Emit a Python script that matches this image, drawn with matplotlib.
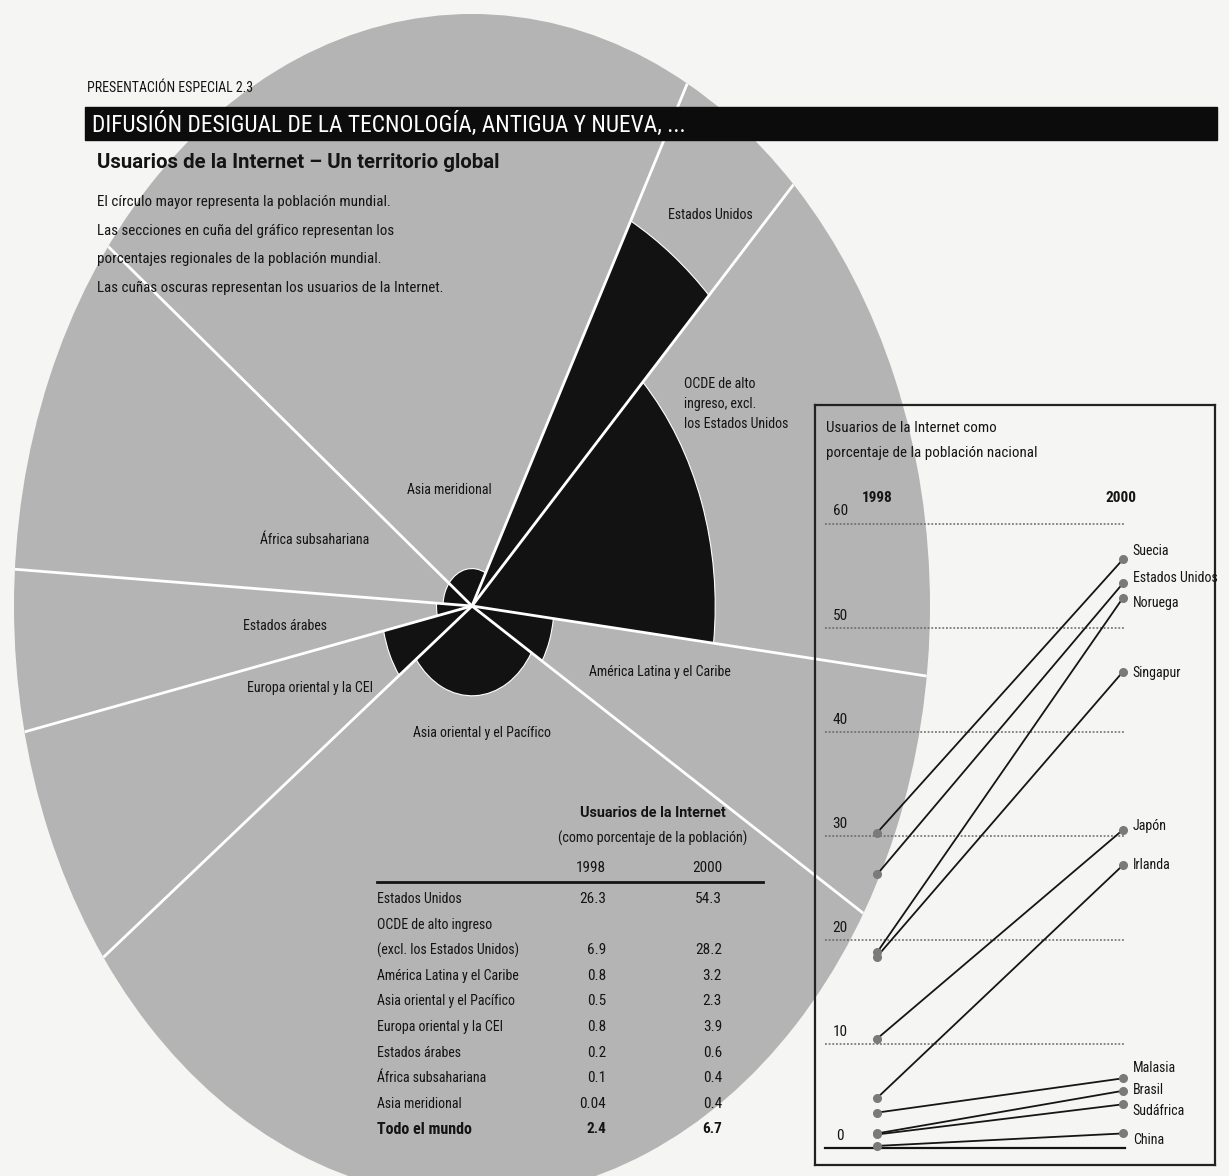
import numpy as np
import matplotlib
matplotlib.use("Agg")
import matplotlib.pyplot as plt
from matplotlib.patches import Rectangle

# --- data -------------------------------------------------------------
# table rows (also the regions of the big circle)
table_labels = ["Estados Unidos",
                "OCDE de alto ingreso\n(excl. los Estados Unidos)",
                "América Latina y el Caribe",
                "Asia oriental y el Pacífico",
                "Europa oriental y la CEI",
                "Estados árabes",
                "África subsahariana",
                "Asia meridional"]
users_1998 = [26.3, 6.9, 0.8, 0.5, 0.8, 0.2, 0.1, 0.04]
users_2000 = [54.3, 28.2, 3.2, 2.3, 3.9, 0.6, 0.4, 0.4]
world_1998 = 2.4
world_2000 = 6.7

# share of world population (%), same order as the table
pop_share = [4.6, 14.5, 6.8, 31.2, 6.7, 4.4, 9.4, 22.4]
# order of the wedges, counter-clockwise starting just below the right side
pie_order = [1, 0, 7, 6, 5, 4, 3, 2]
start_angle = -6.8  # degrees

# labels drawn on the circle
pie_labels = ["Estados Unidos", "OCDE de alto\ningreso, excl.\nlos Estados Unidos",
              "Asia meridional", "África subsahariana", "Estados árabes",
              "Europa oriental y la CEI", "Asia oriental y el Pacífico",
              "América Latina y el Caribe"]

# slope chart: internet users as % of national population
countries = ["Suecia", "Estados Unidos", "Noruega", "Singapur", "Japón",
             "Irlanda", "Malasia", "Brasil", "Sudáfrica", "China"]
pct_1998 = [30.3, 26.3, 18.8, 18.4, 10.5, 4.8, 3.4, 1.4, 1.3, 0.2]
pct_2000 = [56.6, 54.3, 52.9, 45.8, 30.6, 27.2, 6.7, 5.5, 4.2, 1.4]
years = [1998, 2000]
y_ticks = [0, 10, 20, 30, 40, 50, 60]

# --- style ------------------------------------------------------------
W, H = 1229, 1176
FN = ['Liberation Sans Narrow', 'DejaVu Sans Condensed', 'Roboto Condensed', 'Roboto', 'DejaVu Sans']
FW = ['Roboto', 'Liberation Sans', 'DejaVu Sans']
FS = 10     # labels
FD = 10.8   # description lines
FV = 11     # numbers
PAPER = '#f5f5f3'
GRAY = '#b4b4b4'
DARK = '#121212'
TXT = '#141414'

fig = plt.figure(figsize=(W / 100, H / 100), dpi=100, facecolor=PAPER)

# big circle (squashed a bit like the scan) as a polar axes
axp = fig.add_axes([14 / W, (H - 1198) / H, 916 / W, 1184 / H], projection='polar')
axp.set_aspect('auto')
axp.set_facecolor(GRAY)
axp.set_ylim(0, 1)
shares = np.array([pop_share[i] for i in pie_order])
edges = np.radians(start_angle) + np.concatenate([[0], np.cumsum(shares)]) / 100 * 2 * np.pi
radii = np.sqrt(np.array([users_2000[i] for i in pie_order]) / 100)
axp.bar(edges[:-1], radii, width=np.diff(edges), align='edge', color=DARK,
        edgecolor='white', linewidth=0.8)
for e in edges[:-1]:
    axp.plot([e, e], [0, 1], color='white', lw=2, solid_capstyle='butt')
axp.set_xticks([])
axp.set_yticks([])
axp.grid(False)
axp.spines['polar'].set_visible(False)

# overlay in pixel coordinates for the texts
ax = fig.add_axes([0, 0, 1, 1])
ax.set_xlim(0, W)
ax.set_ylim(H, 0)
ax.axis('off')
ax.patch.set_alpha(0)

ax.text(87, 88, "PRESENTACIÓN ESPECIAL 2.3", family=FN, fontsize=10, color=TXT, va='center')
ax.add_patch(Rectangle((85, 107), 1132, 33, color='#0c0c0c', zorder=3))
ax.text(92, 124, "DIFUSIÓN DESIGUAL DE LA TECNOLOGÍA, ANTIGUA Y NUEVA, ...", family=FN,
        fontsize=16.8, color='white', va='center', zorder=4)
ax.text(97, 163, "Usuarios de la Internet – Un territorio global", family=FW,
        fontsize=14.7, fontweight='bold', color=TXT, va='center')
desc = ["El círculo mayor representa la población mundial.",
        "Las secciones en cuña del gráfico representan los",
        "porcentajes regionales de la población mundial.",
        "Las cuñas oscuras representan los usuarios de la Internet."]
for k, line in enumerate(desc):
    ax.text(97, 202 + k * 28.7, line, family=FN, fontsize=FD, color=TXT, va='center')

label_pos = [(710, 215, 'center'), (684, 404, 'left'), (449, 490, 'center'),
             (315, 540, 'center'), (285, 626, 'center'), (310, 688, 'center'),
             (482, 733, 'center'), (660, 672, 'center')]
for lab, (x, y, ha) in zip(pie_labels, label_pos):
    ax.text(x, y, lab, family=FN, fontsize=FS, color=TXT, ha=ha, va='center',
            linespacing=1.55)

# table
ax.text(653, 813, "Usuarios de la Internet", family=FW, fontsize=10.4,
        fontweight='bold', color=TXT, ha='center', va='center')
ax.text(653, 838, "(como porcentaje de la población)", family=FN, fontsize=10.2,
        color=TXT, ha='center', va='center')
ax.text(606, 868, str(years[0]), family=FN, fontsize=FV, color=TXT, ha='right', va='center')
ax.text(722, 868, str(years[1]), family=FN, fontsize=FV, color=TXT, ha='right', va='center')
ax.plot([377, 763], [882, 882], color=TXT, lw=2)
row_y = 899
for lab, v1, v2 in zip(table_labels, users_1998, users_2000):
    lines = lab.split("\n")
    for j, ln in enumerate(lines):
        ax.text(377, row_y + j * 25.6, ln, family=FN, fontsize=FS, color=TXT, va='center')
    vy = row_y + (len(lines) - 1) * 25.6
    ax.text(606, vy, f"{v1:g}", family=FN, fontsize=FV, color=TXT, ha='right', va='center')
    ax.text(722, vy, f"{v2:g}", family=FN, fontsize=FV, color=TXT, ha='right', va='center')
    row_y = vy + 25.6
ax.text(377, row_y, "Todo el mundo", family=FN, fontsize=11.5, fontweight='bold', color=TXT, va='center')
ax.text(606, row_y, f"{world_1998:g}", family=FN, fontsize=FV, fontweight='bold', color=TXT, ha='right', va='center')
ax.text(722, row_y, f"{world_2000:g}", family=FN, fontsize=FV, fontweight='bold', color=TXT, ha='right', va='center')

ax.text(826, 428, "Usuarios de la Internet como", family=FN, fontsize=FD, color=TXT, va='center')
ax.text(826, 453, "porcentaje de la población nacional", family=FN, fontsize=FD, color=TXT, va='center')

# slope chart
axs = fig.add_axes([815 / W, (H - 1165) / H, 400 / W, 760 / H])
axs.patch.set_alpha(0)
axs.set_xlim(1997.496, 2000.748)
axs.set_ylim(-1.635, 71.44)
axs.set_xticks([])
axs.set_yticks([])
for s in axs.spines.values():
    s.set_color('#222222')
    s.set_linewidth(1.6)

x_left, x_right = 1997.577, 2000.02
for v in y_ticks[1:]:
    axs.plot([x_left, x_right], [v, v], color='#666666', lw=1.1, ls=(0, (1.2, 1.2)))
axs.plot([x_left, x_right], [0, 0], color=TXT, lw=1.6)
for v in y_ticks:
    axs.text(1997.70, v + 1.2, str(v), family=FN, fontsize=FV, color=TXT, ha='center', va='center')

for a, b in zip(pct_1998, pct_2000):
    axs.plot(years, [a, b], color='#151515', lw=1.3, zorder=3)
    axs.plot(years, [a, b], ls='none', marker='o', ms=5.5, color='#7a7a7a', zorder=4)

axs.text(years[0], 62.5, str(years[0]), family=FN, fontsize=FV, fontweight='bold',
         color=TXT, ha='center', va='center')
axs.text(years[1] - 0.02, 62.5, str(years[1]), family=FN, fontsize=FV, fontweight='bold',
         color=TXT, ha='center', va='center')

label_y = [57.4, 54.8, 52.4, 45.7, 31.0, 27.2, 7.7, 5.6, 3.6, 0.8]
for name, ly in zip(countries, label_y):
    axs.text(2000.08, ly, name, family=FN, fontsize=FS, color=TXT, ha='left', va='center')

fig.savefig("out.png", dpi=100, facecolor=PAPER)
